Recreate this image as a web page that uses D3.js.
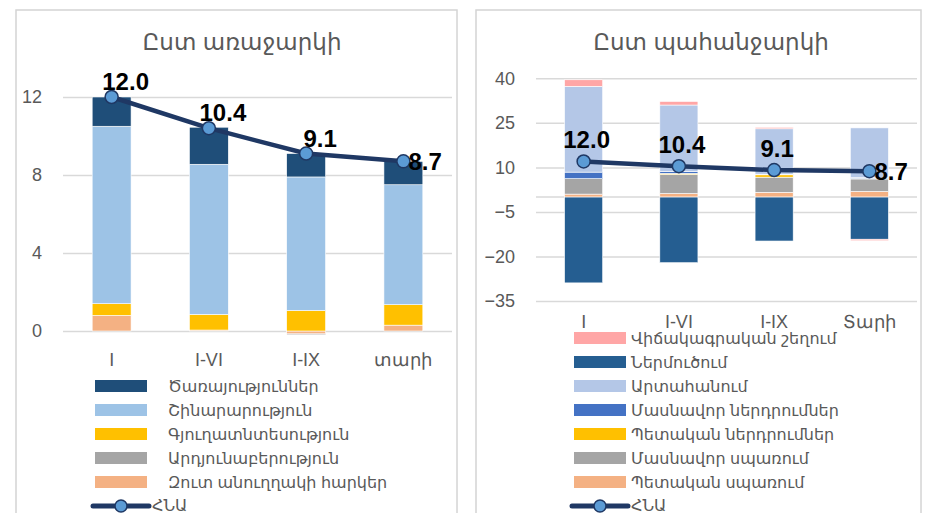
<!DOCTYPE html>
<html>
<head>
<meta charset="utf-8">
<script src="https://cdn.jsdelivr.net/npm/d3@7"></script>
<style>
  body { margin: 0; background: #fff; }
  svg { display: block; font-family: "Liberation Sans", "DejaVu Sans", sans-serif; }
  .tick line { stroke: #d9d9d9; }
  .axis text { fill: #595959; font-size: 18px; }
</style>
</head>
<body>
<script>
// common
const gdpName = 'ՀՆԱ'
const gdp = [12.0, 10.4, 9.1, 8.7]

// left: by supply (stack bottom -> top)
const supplyCats = ['I', 'I-VI', 'I-IX', 'տարի']
const supplyTitle = 'Ըստ առաջարկի'
const supplyTicks = [0, 4, 8, 12]
const netTaxes = [0.8, 0.05, -0.15, 0.3]
const industry = [0, 0, -0.05, 0]
const agriculture = [0.6, 0.8, 1.05, 1.05]
const construction = [9.1, 7.7, 6.85, 6.15]
const services = [1.5, 1.9, 1.2, 1.2]

// right: by demand (stack bottom -> top)
const demandCats = ['I', 'I-VI', 'I-IX', 'Տարի']
const demandTitle = 'Ըստ պահանջարկի'
const demandTicks = [-35, -20, -5, 10, 25, 40]
const govCons = [1.0, 1.2, 1.6, 1.9]
const privCons = [5.2, 6.4, 5.1, 4.2]
const govInv = [0, 0.4, 0.8, 0.2]
const privInv = [2.2, 0.6, 0.2, 0.3]
const exportsV = [28.9, 22.4, 15.3, 16.7]
const importsV = [-28.9, -22.1, -14.8, -14.2]
const discrepancy = [2.2, 1.2, 0.5, -0.5]

const supplySeries = [
  { name: 'Զուտ անուղղակի հարկեր', values: netTaxes, color: '#F4B183' },
  { name: 'Արդյունաբերություն', values: industry, color: '#A5A5A5' },
  { name: 'Գյուղատնտեսություն', values: agriculture, color: '#FFC000' },
  { name: 'Շինարարություն', values: construction, color: '#9DC3E6' },
  { name: 'Ծառայություններ', values: services, color: '#1F4E79' }
]
const demandSeries = [
  { name: 'Պետական սպառում', values: govCons, color: '#F4B183' },
  { name: 'Մասնավոր սպառում', values: privCons, color: '#A5A5A5' },
  { name: 'Պետական ներդրումներ', values: govInv, color: '#FFC000' },
  { name: 'Մասնավոր ներդրումներ', values: privInv, color: '#4472C4' },
  { name: 'Արտահանում', values: exportsV, color: '#B4C7E7' },
  { name: 'Ներմուծում', values: importsV, color: '#255E91' },
  { name: 'Վիճակագրական շեղում', values: discrepancy, color: '#FFA6A6' }
]

const svg = d3.select('body').append('svg')
  .attr('width', 930)
  .attr('height', 513)

function drawPanel(cfg) {
  const g = svg.append('g')

  g.append('rect')
    .attr('x', cfg.box[0]).attr('y', 10)
    .attr('width', cfg.box[1] - cfg.box[0]).attr('height', 540)
    .attr('fill', 'none').attr('stroke', '#d4d4d4').attr('stroke-width', 1.5)

  g.append('text')
    .attr('x', cfg.titleX).attr('y', 50)
    .attr('text-anchor', 'middle')
    .attr('fill', '#595959').style('font-size', '23px')
    .text(cfg.title)

  const xScale = d3.scaleBand()
    .domain(cfg.cats)
    .range(cfg.xRange)
    .paddingInner(0.6)
    .paddingOuter(0.3)

  const yScale = d3.scaleLinear()
    .domain(cfg.yDomain)
    .range(cfg.yRange)

  const w = cfg.xRange[1] - cfg.xRange[0]

  g.append('g')
    .attr('class', 'y axis')
    .attr('transform', `translate(${cfg.xRange[0]},0)`)
    .call(d3.axisLeft(yScale).tickValues(cfg.ticks).tickSize(-w).tickPadding(21).tickFormat(d3.format('d')))
    .call(a => a.select('.domain').remove())
    .call(a => a.selectAll('.tick line').attr('stroke', '#d9d9d9').attr('stroke-width', 1.5))

  if (cfg.zeroLine) {
    g.append('line')
      .attr('x1', cfg.xRange[0]).attr('x2', cfg.xRange[1])
      .attr('y1', yScale(0)).attr('y2', yScale(0))
      .attr('stroke', '#d9d9d9').attr('stroke-width', 1.5)
  }

  // stacked bars
  const rows = cfg.cats.map((c, i) => {
    const r = { cat: c }
    cfg.series.forEach(s => { r[s.name] = s.values[i] })
    return r
  })
  const stack = d3.stack()
    .keys(cfg.series.map(s => s.name))
    .offset(d3.stackOffsetDiverging)(rows)

  stack.forEach((layer, k) => {
    g.append('g').selectAll('rect')
      .data(layer)
      .enter().append('rect')
      .attr('x', d => xScale(d.data.cat))
      .attr('width', xScale.bandwidth())
      .attr('y', d => yScale(Math.max(d[0], d[1])))
      .attr('height', d => Math.abs(yScale(d[0]) - yScale(d[1])))
      .attr('fill', cfg.series[k].color)
      .attr('stroke', '#fff').attr('stroke-width', 0.6)
  })

  g.append('g')
    .attr('class', 'x axis')
    .attr('transform', `translate(0,${cfg.catY})`)
    .call(d3.axisBottom(xScale).tickSize(0).tickPadding(0))
    .call(a => a.select('.domain').remove())

  // GDP line
  const cx = i => xScale(cfg.cats[i]) + xScale.bandwidth() / 2
  const line = d3.line()
    .x((d, i) => cx(i))
    .y(d => yScale(d))
  g.append('path')
    .datum(gdp)
    .attr('d', line)
    .attr('fill', 'none')
    .attr('stroke', '#1F3864')
    .attr('stroke-width', 4.5)
  g.selectAll('circle.pt')
    .data(gdp)
    .enter().append('circle')
    .attr('class', 'pt')
    .attr('cx', (d, i) => cx(i))
    .attr('cy', d => yScale(d))
    .attr('r', 6.5)
    .attr('fill', '#5B9BD5')
    .attr('stroke', '#1F3864')
    .attr('stroke-width', 1.5)
  g.selectAll('text.lbl')
    .data(gdp)
    .enter().append('text')
    .attr('class', 'lbl')
    .attr('x', (d, i) => i === gdp.length - 1 ? cx(i) + 5 : cx(i) + cfg.lblDx)
    .attr('y', (d, i) => i === gdp.length - 1 ? yScale(d) + 9 : yScale(d) - cfg.lblDy)
    .attr('text-anchor', (d, i) => i === gdp.length - 1 ? 'start' : 'middle')
    .attr('fill', '#000')
    .style('font-size', '24px').style('font-weight', 'bold')
    .text(d => d.toFixed(1))

  // legend (reverse of stack order)
  const leg = g.append('g')
  const items = cfg.series.slice().reverse()
  items.forEach((s, i) => {
    const y = cfg.legY + i * 24
    leg.append('rect')
      .attr('x', cfg.legX).attr('y', y - 6)
      .attr('width', 52).attr('height', 12)
      .attr('fill', s.color)
    leg.append('text')
      .attr('x', cfg.legX + cfg.legTx).attr('y', y + 6)
      .attr('fill', '#595959').style('font-size', '16px')
      .text(s.name)
  })
  const ly = cfg.legY + items.length * 24
  leg.append('line')
    .attr('x1', cfg.legX - 2).attr('x2', cfg.legX + 54)
    .attr('y1', ly).attr('y2', ly)
    .attr('stroke', '#1F3864').attr('stroke-width', 5).attr('stroke-linecap', 'round')
  leg.append('circle')
    .attr('cx', cfg.legX + 26).attr('cy', ly).attr('r', 6)
    .attr('fill', '#5B9BD5').attr('stroke', '#1F3864').attr('stroke-width', 1.5)
  leg.append('text')
    .attr('x', cfg.legX + 57).attr('y', ly + 5)
    .attr('fill', '#595959').style('font-size', '16px')
    .text(gdpName)
}

drawPanel({
  box: [16, 457],
  titleX: 242,
  title: supplyTitle,
  cats: supplyCats,
  series: supplySeries,
  ticks: supplyTicks,
  yDomain: [0, 12],
  yRange: [331, 97],
  xRange: [63, 452],
  catY: 353,
  lblDx: 14,
  lblDy: 7,
  zeroLine: false,
  legX: 95,
  legTx: 73,
  legY: 386
})

drawPanel({
  box: [476, 921],
  titleX: 711,
  title: demandTitle,
  cats: demandCats,
  series: demandSeries,
  ticks: demandTicks,
  yDomain: [-35, 40],
  yRange: [301, 78.3],
  xRange: [536, 917],
  catY: 315,
  lblDx: 3,
  lblDy: 13,
  zeroLine: true,
  legX: 574,
  legTx: 57,
  legY: 338
})
</script>
</body>
</html>
